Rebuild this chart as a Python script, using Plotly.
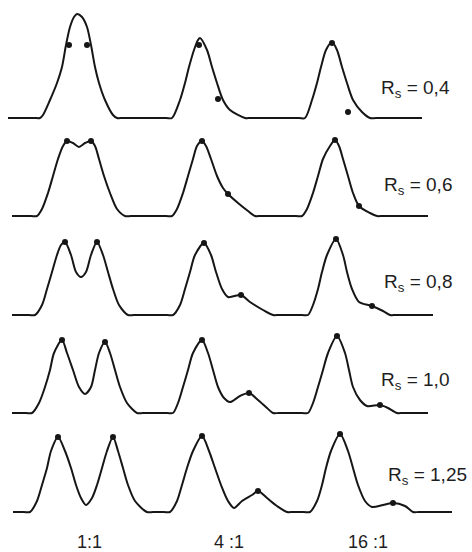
import plotly.graph_objects as go

# ---- traced chromatogram data (time units, detector signal) ----
row1_x = [8, 34, 40, 43, 50, 57, 62, 66, 70, 74, 77, 82, 87, 91, 95, 99, 105, 113, 117, 123,
          166, 172, 180, 185, 189, 194, 198, 200, 207, 212, 217, 223, 230, 245, 251,
          299, 305, 312, 317, 321, 326, 332, 337, 342, 347, 353, 362, 370, 376, 422]
row1_y = [0, 0, 0, 3, 18, 35, 51, 73, 91, 101, 104, 101, 91, 73, 51, 35, 18, 3, 0, 0,
          0, 0, 18, 35, 51, 68, 78, 80, 68, 51, 35, 18, 8, 0, 0,
          0, 0, 18, 35, 51, 68, 76, 68, 51, 35, 18, 6, 0, 0, 0]
row1_dx = [69, 87, 199, 218, 332, 348]
row1_dy = [73, 73, 73, 19, 75, 6]

row2_x = [12, 31, 37, 42, 48, 53, 58, 63, 67, 73, 79, 85, 91, 95, 99, 104, 110, 117, 125, 131,
          166, 172, 177, 183, 188, 193, 197, 202, 206, 211, 217, 223, 228, 238, 248, 255, 261,
          296, 302, 307, 313, 318, 323, 330, 335, 339, 343, 348, 353, 359, 370, 377, 383, 428]
row2_y = [0, 0, 0, 7, 23, 40, 57, 70, 75, 73, 69, 73, 75, 70, 57, 40, 23, 7, 0, 0,
          0, 0, 7, 23, 40, 57, 70, 75, 70, 57, 40, 28, 22, 13, 5, 0, 0,
          0, 0, 7, 23, 40, 57, 70, 76, 70, 57, 40, 23, 10, 3, 0, 0, 0]
row2_dx = [67, 91, 202, 228, 335, 359]
row2_dy = [75, 75, 75, 22, 76, 10]

row3_x = [12, 29, 35, 42, 47, 52, 57, 61, 65, 71, 76, 81, 86, 91, 97, 103, 108, 113, 119, 128, 134,
          167, 173, 180, 185, 190, 195, 204, 211, 216, 222, 228, 241, 250, 263, 273, 279,
          302, 308, 313, 318, 322, 327, 336, 343, 347, 352, 359, 372, 383, 390, 396, 433]
row3_y = [0, 0, 0, 10, 26, 43, 60, 70, 73, 60, 43, 38, 43, 60, 73, 60, 43, 26, 10, 0, 0,
          0, 0, 10, 26, 43, 60, 72, 60, 43, 26, 18, 20, 13, 5, 0, 0,
          0, 0, 10, 26, 43, 60, 76, 60, 43, 26, 13, 9, 4, 0, 0, 0]
row3_dx = [65, 97, 204, 241, 336, 372]
row3_dy = [73, 73, 72, 20, 76, 9]

row4_x = [12, 26, 32, 39, 45, 50, 54, 62, 67, 73, 79, 85, 91, 95, 99, 105, 110, 115, 120, 127, 137, 143,
          167, 173, 178, 183, 188, 193, 202, 208, 213, 218, 224, 230, 240, 249, 258, 267, 273, 279,
          302, 308, 313, 318, 323, 328, 337, 345, 349, 353, 360, 367, 380, 388, 397, 403, 428]
row4_y = [0, 0, 0, 10, 26, 43, 60, 73, 60, 43, 26, 19, 26, 43, 60, 71, 60, 43, 26, 10, 0, 0,
          0, 0, 10, 26, 43, 60, 73, 60, 43, 26, 15, 11, 17, 20, 13, 5, 0, 0,
          0, 0, 10, 26, 43, 60, 77, 60, 43, 26, 13, 7, 8, 5, 0, 0, 0]
row4_dx = [62, 105, 202, 249, 337, 380]
row4_dy = [73, 71, 73, 20, 77, 8]

row5_x = [13, 24, 30, 37, 42, 47, 51, 58, 65, 71, 76, 81, 86, 92, 97, 102, 107, 113, 118, 123, 128, 135, 147, 153,
          164, 170, 177, 182, 187, 193, 202, 209, 215, 221, 228, 234, 242, 252, 258, 267, 277, 287, 293,
          304, 310, 317, 322, 326, 331, 340, 348, 353, 358, 365, 372, 383, 393, 405, 413, 419, 452]
row5_y = [0, 0, 0, 11, 27, 44, 61, 75, 61, 44, 27, 14, 7, 14, 27, 44, 61, 75, 61, 44, 27, 11, 0, 0,
          0, 0, 11, 27, 44, 61, 76, 61, 44, 27, 11, 4, 11, 17, 21, 14, 6, 0, 0,
          0, 0, 11, 27, 44, 61, 78, 61, 44, 27, 11, 5, 7, 9, 6, 0, 0, 0]
row5_dx = [58, 113, 202, 258, 340, 393]
row5_dy = [75, 75, 76, 21, 78, 9]

rs_labels = ["0,4", "0,6", "0,8", "1,0", "1,25"]
ratio_labels = ["1:1", "4 :1", "16 :1"]

# ---- figure ----
W, H = 472, 552
baselines = [118, 216, 315, 413, 512]   # pixel row of each baseline
rows = [(row1_x, row1_y, row1_dx, row1_dy), (row2_x, row2_y, row2_dx, row2_dy),
        (row3_x, row3_y, row3_dx, row3_dy), (row4_x, row4_y, row4_dx, row4_dy),
        (row5_x, row5_y, row5_dx, row5_dy)]

fig = go.Figure()
ink = "#161616"
for i, (xs, ys, dx, dy) in enumerate(rows):
    yname = "y" if i == 0 else f"y{i+1}"
    fig.add_trace(go.Scatter(x=xs, y=ys, mode="lines", yaxis=yname,
                             line=dict(color=ink, width=2, shape="spline", smoothing=0.8),
                             hoverinfo="skip", showlegend=False))
    fig.add_trace(go.Scatter(x=dx, y=dy, mode="markers", yaxis=yname,
                             marker=dict(color=ink, size=6),
                             hoverinfo="skip", showlegend=False))

layout = dict(width=W, height=H, margin=dict(l=0, r=0, t=0, b=0),
              paper_bgcolor="white", plot_bgcolor="white",
              xaxis=dict(range=[0, W], visible=False, fixedrange=True))
for i, b in enumerate(baselines):
    key = "yaxis" if i == 0 else f"yaxis{i+1}"
    ax = dict(range=[-(H - b), b], visible=False, domain=[0, 1], fixedrange=True)
    if i > 0:
        ax["overlaying"] = "y"
    layout[key] = ax
fig.update_layout(**layout)

rs_font = dict(family="Liberation Sans, Arial, sans-serif", size=19, color="#1e1e1e")
ratio_font = dict(family="Liberation Sans, Arial, sans-serif", size=18, color="#1e1e1e")
rs_pos = [(379, 89), (382, 186), (382, 283), (379, 381), (386, 476)]
for i, (lab, (px, py)) in enumerate(zip(rs_labels, rs_pos)):
    yref = "y" if i == 0 else f"y{i+1}"
    fig.add_annotation(x=px, y=baselines[i] - py, xref="x", yref=yref,
                       text=f"R<sub>s</sub> = {lab}", showarrow=False,
                       xanchor="left", yanchor="middle", font=rs_font)
for lab, px in zip(ratio_labels, [89, 229, 368]):
    fig.add_annotation(x=px, y=baselines[4] - 542, xref="x", yref="y5",
                       text=lab, showarrow=False, xanchor="center",
                       yanchor="middle", font=ratio_font)

fig.write_html("out.html", config={"displayModeBar": False},
               post_script="document.body.style.margin='0';")
